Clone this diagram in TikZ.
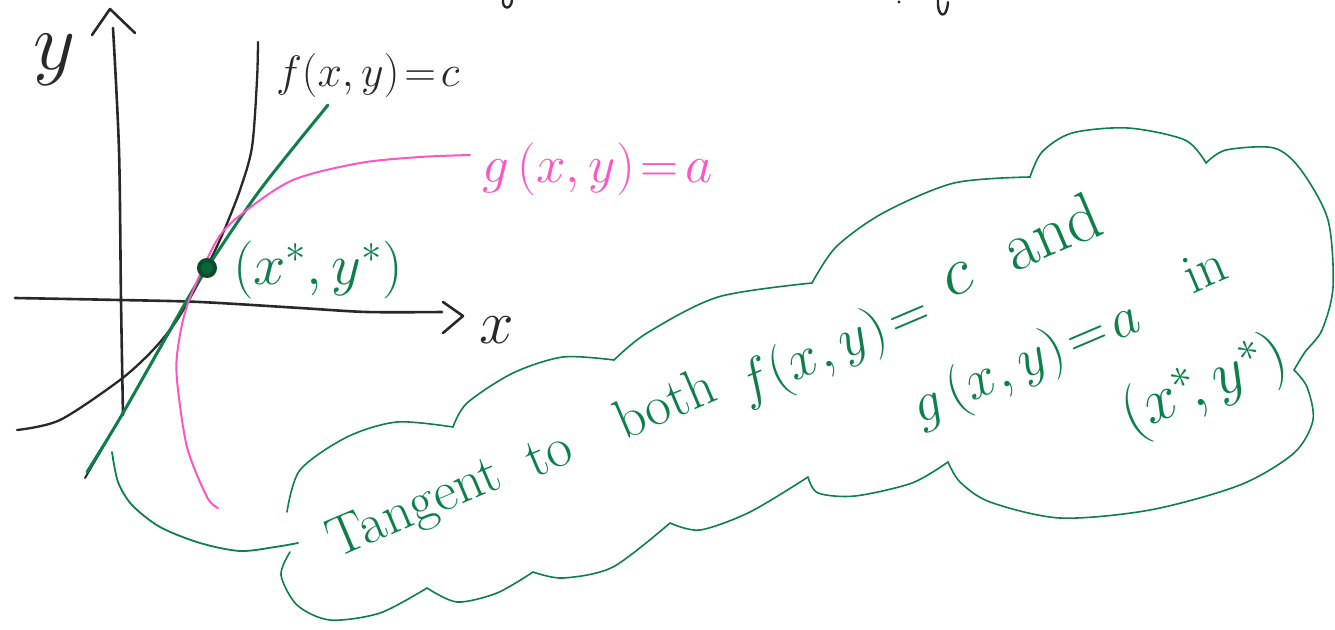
\RequirePackage{fix-cm}
\documentclass[tikz,border=0pt]{standalone}
\definecolor{pgreen}{RGB}{12,128,72}
\definecolor{ppink}{RGB}{255,85,195}
\definecolor{pblack}{RGB}{40,40,40}
\tikzset{
  ink/.style={line cap=round, line join=round},
  blackpen/.style={ink, draw=pblack, line width=2.6pt},
  greenpen/.style={ink, draw=pgreen, line width=2.6pt},
  pinkpen/.style={ink, draw=ppink, line width=2pt},
  cloudpen/.style={ink, draw=pgreen, line width=1.6pt},
  lbl/.style={inner sep=0pt, outer sep=0pt},
  cloudword/.style={lbl, anchor=base west, text=pgreen, font=\fontsize{56}{56}\selectfont, rotate=23},
}
\begin{document}
\begin{tikzpicture}[x=1pt,y=-1pt]
\useasboundingbox (0,0) rectangle (1335,629);

% cut-off fragments at top edge
\draw[blackpen, line width=2.4pt] (503,0) .. controls (502,9) and (511,11) .. (512,0);
\draw[blackpen, line width=2.4pt] (938,0) .. controls (937,18) and (947,20) .. (948,2);
\fill[pblack] (899,2) circle (1.6);

% axes
\draw[blackpen] plot[smooth] coordinates {(123,415) (121,300) (119,150) (113,28)};
\draw[blackpen] (92,35) -- (110,9) -- (135,33);
\node[lbl, font=\fontsize{82}{82}\selectfont, text=pblack] (ylab) at (55,60) {$y$};
\draw[blackpen] plot[smooth] coordinates {(15,298) (120,300) (200,302) (300,308) (367,312) (442,312)};
\draw[blackpen] (443,302) -- (463,316) -- (443,333);
\node[lbl, font=\fontsize{62}{62}\selectfont, text=pblack] (xlab) at (497,330) {$x$};

% level curve f
\draw[blackpen, line width=2.3pt] plot[smooth] coordinates {(17,430) (60,420) (120,380) (153,350) (177,320) (200,280) (208,265) (223,233) (240,190) (252,147) (257,80) (258,42)};
\node[lbl, anchor=base west, font=\fontsize{44}{44}\selectfont, text=pblack] (flab) at (276,86) {$f(x,y)\!=\!c$};

% pencil underlay of tangent
\draw[blackpen, line width=2pt] (85,478) -- (123,413) -- (205,270);
% tangent line
\draw[greenpen, line width=3pt] plot[smooth] coordinates {(87,472) (123,413) (187,300) (207,268) (260,190) (328,105)};

% level curve g
\draw[pinkpen] plot[smooth] coordinates {(218,508) (207,497) (187,447) (177,380) (178,347) (188,303) (217,240) (243,213) (293,180) (360,163) (420,157) (470,155)};
\node[lbl, anchor=base west, font=\fontsize{53}{53}\selectfont, text=ppink] (glab) at (482,182) {$g\,(x,y)\!=\!a$};

% point (x*, y*)
\node[circle, draw=pgreen!60!black, line width=4pt, fill=pgreen!80!black, minimum size=16pt, inner sep=0pt] (pt) at (207,268) {};
\node[lbl, anchor=base west, font=\fontsize{58}{58}\selectfont, text=pgreen] (ptlab) at (233,284) {$(x^*,y^*)$};

% cloud
\draw[cloudpen] plot[smooth] coordinates {(290,552) (281,575) (297,605) (330,620) (380,613) (427,588)};
\draw[cloudpen] plot[smooth] coordinates {(427,588) (457,602) (497,593) (533,572)};
\draw[cloudpen] plot[smooth] coordinates {(533,572) (563,578) (613,567) (670,523)};
\draw[cloudpen] plot[smooth] coordinates {(670,523) (700,530) (750,512) (808,477)};
\draw[cloudpen] plot[smooth] coordinates {(808,477) (818,493) (855,496) (912,483) (948,462)};
\draw[cloudpen] plot[smooth] coordinates {(948,462) (960,482) (990,502) (1060,518) (1150,510) (1240,485) (1294,453) (1313,420) (1307,387) (1294,370)};
\draw[cloudpen] plot[smooth] coordinates {(1294,370) (1305,352) (1322,330) (1333,287) (1328,220) (1301,170) (1274,148) (1226,150) (1206,163)};
\draw[cloudpen] plot[smooth] coordinates {(1206,163) (1185,140) (1128,128) (1072,133) (1042,152) (1030,177)};
\draw[cloudpen] plot[smooth] coordinates {(1030,177) (954,183) (883,213) (836,247) (812,283)};
\draw[cloudpen] plot[smooth] coordinates {(812,283) (718,297) (647,333) (614,360)};
\draw[cloudpen] plot[smooth] coordinates {(614,360) (563,357) (513,373) (467,403) (453,427)};
\draw[cloudpen] plot[smooth] coordinates {(453,427) (397,422) (347,437) (300,470) (287,512)};
% tail
\coordinate (tailstart) at (112,452);
\coordinate (tailend) at (298,543);
\draw[cloudpen, line width=1.8pt] plot[smooth] coordinates {(tailstart) (118,482) (132,505) (160,527) (200,543) (240,551) (275,547) (tailend)};

% cloud text
\node[cloudword] (w1) at (336,558) {Tangent};
\node[cloudword] (w2) at (534,478) {to};
\node[cloudword] (w3) at (624,440) {both};
\node[cloudword] (w4) at (746,402) {$f(x,y)\!=$};
\node[cloudword, font=\fontsize{68}{68}\selectfont] (w5) at (950,298) {$c$};
\node[cloudword, font=\fontsize{68}{68}\selectfont] (w6) at (1014,272) {and};
\node[cloudword] (w7) at (920,424) {$g\,(x,y)\!=\!a$};
\node[cloudword] (w8) at (1192,294) {in};
\node[cloudword, rotate=-1, font=\fontsize{63}{63}\selectfont] (w9) at (1130,434) {$(x^*\!,y^*)$};
\end{tikzpicture}
\end{document}
